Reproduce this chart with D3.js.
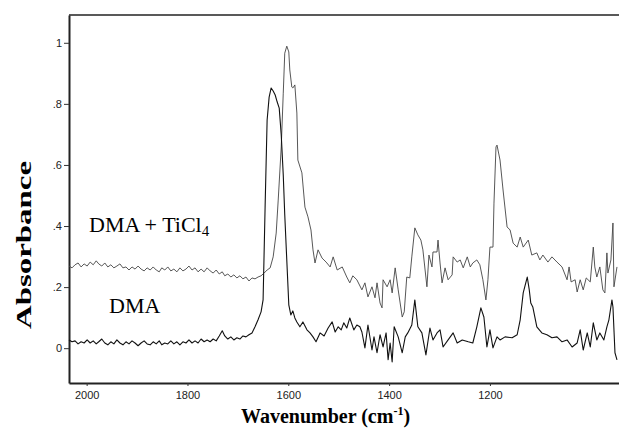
<!DOCTYPE html>
<html>
<head>
<meta charset="utf-8">
<script src="https://cdn.jsdelivr.net/npm/d3@7"></script>
<style>
  body { margin: 0; background: #fff; }
  svg { display: block; }
</style>
</head>
<body>
<div id="chart"></div>
<script>
// [wavenumber cm-1, absorbance]
const dma = [
  [2035,0.027],[2029,0.021],[2023,0.024],[2017,0.014],[2011,0.021],[2005,0.017],[1999,0.027],[1993,0.017],[1987,0.024],[1981,0.014],
  [1976,0.021],[1970,0.030],[1964,0.017],[1958,0.011],[1952,0.021],[1946,0.014],[1940,0.027],[1934,0.017],[1928,0.011],[1922,0.021],
  [1916,0.014],[1910,0.024],[1904,0.017],[1898,0.008],[1892,0.017],[1886,0.024],[1880,0.014],[1874,0.011],[1868,0.021],[1862,0.014],
  [1856,0.024],[1851,0.011],[1845,0.017],[1839,0.014],[1833,0.024],[1827,0.014],[1821,0.021],[1815,0.011],[1809,0.021],[1803,0.017],
  [1797,0.027],[1791,0.017],[1785,0.024],[1779,0.017],[1773,0.030],[1767,0.021],[1761,0.027],[1755,0.021],[1749,0.030],[1743,0.024],
  [1737,0.040],[1731,0.057],[1726,0.040],[1720,0.030],[1714,0.037],[1708,0.027],[1702,0.034],[1696,0.030],[1690,0.040],[1684,0.037],
  [1678,0.044],[1672,0.050],[1666,0.070],[1660,0.093],[1654,0.119],
  [1650,0.158],[1646,0.462],[1642,0.747],[1638,0.822],[1634,0.852],[1630,0.842],[1626,0.829],[1622,0.806],[1618,0.786],[1614,0.698],
  [1610,0.567],[1607,0.436],[1603,0.289],[1599,0.142],[1595,0.109],[1591,0.122],[1587,0.099],[1583,0.086],[1577,0.070],[1571,0.086],
  [1563,0.060],[1557,0.050],[1551,0.037],[1545,0.021],[1537,0.050],[1529,0.040],[1521,0.066],[1513,0.086],[1507,0.053],[1501,0.070],
  [1495,0.060],[1490,0.083],[1484,0.066],[1478,0.099],[1470,0.060],[1464,0.076],[1458,0.070],[1454,0.053],[1448,0.001],[1442,0.076],
  [1434,-0.006],[1430,0.037],[1424,-0.015],[1418,0.044],[1412,0.004],[1406,0.050],[1402,-0.038],[1398,0.017],[1394,-0.045],[1390,0.070],
  [1382,0.037],[1374,-0.015],[1368,0.037],[1363,0.050],[1355,0.076],[1349,0.158],[1343,0.070],[1335,0.050],[1327,-0.022],[1319,0.066],
  [1313,0.027],[1305,0.050],[1299,0.060],[1293,0.004],[1283,0.027],[1273,0.050],[1265,0.017],[1255,0.027],[1243,0.021],[1234,0.017],
  [1226,0.070],[1218,0.132],[1212,0.102],[1206,0.004],[1200,0.060],[1194,0.001],[1186,0.037],[1180,0.027],[1170,0.037],[1156,0.034],
  [1146,0.044],[1140,0.093],[1134,0.181],[1126,0.233],[1122,0.191],[1119,0.148],[1115,0.135],[1107,0.070],[1097,0.050],[1087,0.044],
  [1077,0.034],[1067,0.037],[1057,0.021],[1047,0.027],[1037,0.004],[1027,0.017],[1021,0.060],[1015,-0.006],[1007,0.050],[1001,0.004],
  [995,0.083],[988,0.027],[982,0.050],[974,0.027],[968,0.070],[964,0.093],[958,0.158],[956,0.135],[952,-0.015],[948,-0.038]
];

const dmaTiCl4 = [
  [2035,0.269],[2029,0.263],[2023,0.273],[2017,0.279],[2011,0.266],[2005,0.276],[1999,0.269],[1993,0.282],[1987,0.273],[1981,0.286],
  [1976,0.276],[1970,0.269],[1964,0.279],[1958,0.266],[1952,0.273],[1946,0.263],[1940,0.269],[1934,0.276],[1928,0.263],[1922,0.266],
  [1916,0.256],[1910,0.266],[1904,0.259],[1898,0.269],[1892,0.259],[1886,0.253],[1880,0.263],[1874,0.256],[1868,0.266],[1862,0.256],
  [1856,0.250],[1851,0.263],[1845,0.256],[1839,0.266],[1833,0.253],[1827,0.259],[1821,0.250],[1815,0.263],[1809,0.253],[1803,0.259],
  [1797,0.269],[1791,0.256],[1785,0.263],[1779,0.250],[1773,0.259],[1767,0.250],[1761,0.263],[1755,0.253],[1749,0.246],[1743,0.256],
  [1737,0.243],[1731,0.250],[1726,0.237],[1720,0.243],[1714,0.233],[1708,0.240],[1702,0.230],[1696,0.237],[1690,0.227],[1684,0.233],
  [1678,0.220],[1672,0.230],[1666,0.227],[1660,0.233],[1654,0.237],
  [1648,0.246],[1642,0.256],[1636,0.263],[1630,0.299],[1624,0.377],[1620,0.485],[1614,0.659],[1610,0.835],[1607,0.966],[1603,0.989],
  [1599,0.970],[1597,0.911],[1593,0.855],[1591,0.852],[1587,0.862],[1583,0.770],[1581,0.616],[1573,0.574],[1567,0.462],[1561,0.430],
  [1555,0.387],[1551,0.322],[1547,0.279],[1541,0.322],[1533,0.295],[1525,0.282],[1517,0.266],[1511,0.299],[1503,0.256],[1493,0.266],
  [1484,0.233],[1478,0.214],[1472,0.237],[1464,0.224],[1454,0.191],[1448,0.214],[1442,0.168],[1434,0.201],[1428,0.165],[1424,0.214],
  [1418,0.148],[1414,0.132],[1412,0.224],[1404,0.201],[1398,0.224],[1394,0.181],[1388,0.263],[1382,0.191],[1374,0.102],[1370,0.119],
  [1365,0.233],[1359,0.230],[1355,0.299],[1349,0.394],[1343,0.371],[1337,0.354],[1333,0.322],[1325,0.201],[1321,0.305],[1315,0.266],
  [1313,0.315],[1305,0.315],[1303,0.354],[1299,0.279],[1295,0.214],[1289,0.263],[1283,0.224],[1275,0.240],[1273,0.299],[1265,0.282],
  [1259,0.289],[1253,0.263],[1245,0.299],[1239,0.266],[1234,0.279],[1226,0.289],[1220,0.273],[1214,0.224],[1208,0.158],[1204,0.224],
  [1200,0.331],[1194,0.331],[1192,0.475],[1188,0.659],[1186,0.665],[1180,0.616],[1174,0.518],[1166,0.397],[1160,0.387],[1154,0.344],
  [1146,0.331],[1140,0.364],[1134,0.331],[1124,0.354],[1117,0.305],[1107,0.312],[1101,0.289],[1095,0.305],[1085,0.282],[1077,0.299],
  [1067,0.282],[1057,0.266],[1047,0.224],[1043,0.266],[1039,0.217],[1031,0.224],[1027,0.184],[1021,0.224],[1015,0.191],[1009,0.230],
  [1001,0.217],[995,0.331],[992,0.266],[988,0.233],[982,0.266],[976,0.191],[972,0.181],[968,0.312],[966,0.246],[960,0.289],
  [956,0.410],[954,0.201],[948,0.266]
];

const xTicks = [2000, 1800, 1600, 1400, 1200];
const yTicks = [0, 0.2, 0.4, 0.6, 0.8, 1];

class Chart {
  constructor(elm, opt) {
    this._opt = { width: 619, height: 430, margin: { top: 15, right: 0, bottom: 47, left: 69 }, ...opt };
    this._svg = d3.select(elm).append('svg')
      .attr('width', this._opt.width)
      .attr('height', this._opt.height);
    this._opt.cWidth = this._opt.width - this._opt.margin.left - this._opt.margin.right;
    this._opt.cHeight = this._opt.height - this._opt.margin.top - this._opt.margin.bottom;
    this._container = this._svg.append('g')
      .attr('transform', `translate(${this._opt.margin.left},${this._opt.margin.top})`);
    this.x = d3.scaleLinear().domain([2035, 944]).range([0, this._opt.cWidth]);
    this.y = d3.scaleLinear().domain([-0.114, 1.091]).range([this._opt.cHeight, 0]);
  }
  mountAxis() {
    const g = this._container;
    const fmt = d => d === 0 ? '0' : d === 1 ? '1' : d3.format('.1f')(d).replace(/^0/, '');

    const ya = g.append('g')
      .call(d3.axisLeft(this.y).tickValues(yTicks).tickFormat(fmt).tickSize(5).tickSizeOuter(0).tickPadding(2));
    const xa = g.append('g')
      .attr('transform', `translate(0,${this._opt.cHeight})`)
      .call(d3.axisBottom(this.x).tickValues(xTicks).tickFormat(d3.format('d')).tickSize(3).tickSizeOuter(0).tickPadding(5));

    [ya, xa].forEach(a => {
      a.select('.domain').attr('stroke', '#222').attr('stroke-width', 2);
      a.selectAll('.tick line').attr('stroke', '#333');
      a.selectAll('.tick text').attr('fill', '#222')
        .style('font-family', 'Liberation Sans, Arial, sans-serif').style('font-size', '11px');
    });

    // top frame line
    g.append('line')
      .attr('x1', 0).attr('x2', this._opt.cWidth)
      .attr('y1', 0).attr('y2', 0)
      .attr('stroke', '#222').attr('stroke-width', 1.5);

    const serif = 'Liberation Serif, Times New Roman, serif';
    this._svg.append('text')
      .attr('transform', 'translate(31,245) rotate(-90)')
      .attr('text-anchor', 'middle')
      .attr('textLength', 168).attr('lengthAdjust', 'spacingAndGlyphs')
      .style('font-family', serif).style('font-weight', 'bold').style('font-size', '21px')
      .text('Absorbance');

    const xt = this._svg.append('text')
      .attr('x', 241).attr('y', 423)
      .style('font-family', serif).style('font-weight', 'bold').style('font-size', '20px');
    xt.append('tspan').text('Wavenumber (cm');
    xt.append('tspan').attr('dy', -8).style('font-size', '12px').text('-1');
    xt.append('tspan').attr('dy', 8).text(')');
  }
  render() {
    const line = d3.line().x(d => this.x(d[0])).y(d => this.y(d[1]));
    const plot = this._container.append('g');
    plot.append('path').datum(dmaTiCl4)
      .attr('d', line).attr('fill', 'none')
      .attr('stroke', '#444').attr('stroke-width', 0.9).attr('stroke-linejoin', 'round');
    plot.append('path').datum(dma)
      .attr('d', line).attr('fill', 'none')
      .attr('stroke', '#111').attr('stroke-width', 1.1).attr('stroke-linejoin', 'round');

    const serif = 'Liberation Serif, Times New Roman, serif';
    const t1 = this._svg.append('text').attr('x', 89).attr('y', 232)
      .style('font-family', serif).style('font-size', '22px');
    t1.append('tspan').text('DMA + TiCl');
    t1.append('tspan').attr('dy', 4).style('font-size', '15px').text('4');
    this._svg.append('text').attr('x', 109).attr('y', 313)
      .style('font-family', serif).style('font-size', '22px')
      .text('DMA');
  }
}

const chart = new Chart('#chart');
chart.mountAxis();
chart.render();
</script>
</body>
</html>
